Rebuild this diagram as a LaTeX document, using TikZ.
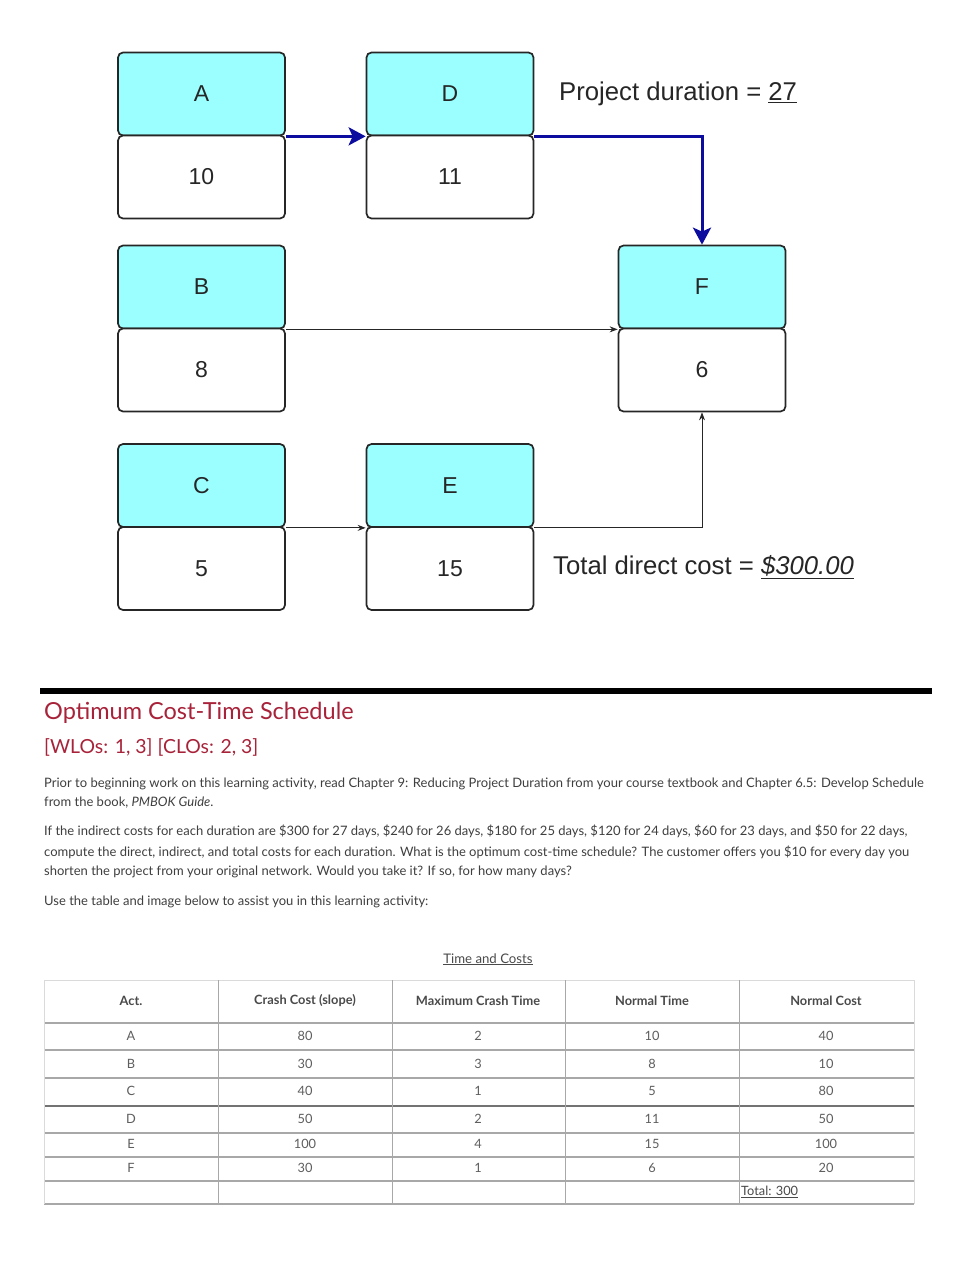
\documentclass[tikz,border=0pt]{standalone}
\usepackage{fontspec}
\setmainfont{Liberation Sans}
\newfontfamily\lato{Lato}
\usetikzlibrary{arrows.meta}
\definecolor{boxcyan}{HTML}{9BFFFF}
\definecolor{navy}{HTML}{0C0C9E}
\definecolor{titlered}{HTML}{A8233A}
\definecolor{bodygray}{HTML}{3F3F3F}
\definecolor{tabgray}{HTML}{5E5E5E}
\definecolor{headgray}{HTML}{4A4A4A}
\definecolor{rulegray}{HTML}{A8A8A8}
\definecolor{lightrule}{HTML}{DADADA}
\tikzset{
  actbox/.style={draw=black!85, line width=1.7pt, rounded corners=5pt, fill=boxcyan,
    minimum width=167pt, minimum height=83pt, inner sep=0pt,
    font=\fontsize{23}{23}\selectfont, text=black!85},
  durbox/.style={actbox, fill=white},
  crit/.style={draw=navy, line width=3pt, -{Stealth[length=17pt,width=18pt,inset=4pt]}},
  plain/.style={draw=black!85, line width=0.9pt, -{Stealth[length=8pt,width=6pt]}},
  lbl/.style={anchor=west, inner sep=0pt, font=\fontsize{25.7}{26}\selectfont, text=black!85},
  bodytxt/.style={anchor=base west, inner sep=0pt, font=\lato\fontsize{13}{13}\selectfont, text=bodygray},
  cell/.style={anchor=center, inner sep=0pt, font=\lato\fontsize{12.8}{13}\selectfont, text=tabgray},
  headcell/.style={anchor=center, inner sep=0pt, font=\lato\bfseries\fontsize{12.8}{13}\selectfont, text=headgray},
}
\begin{document}
\begin{tikzpicture}[x=1pt,y=-1pt]
\useasboundingbox[fill=white] (0,0) rectangle (971,1280);
% activity boxes
\node[actbox] (A) at (201.5,94) {A};
\node[durbox] (A2) at (201.5,177) {10};
\node[actbox] (D) at (450,94) {D};
\node[durbox] (D2) at (450,177) {11};
\node[actbox] (B) at (201.5,287) {B};
\node[durbox] (B2) at (201.5,370) {8};
\node[actbox] (F) at (702,287) {F};
\node[durbox] (F2) at (702,370) {6};
\node[actbox] (C) at (201.5,485.5) {C};
\node[durbox] (C2) at (201.5,568.5) {5};
\node[actbox] (E) at (450,485.5) {E};
\node[durbox] (E2) at (450,568.5) {15};
% connectors
\draw[crit] (A.south east) -- (D.south west);
\draw[crit] (D.south east) -| (F.north);
\draw[plain] (B.south east) -- (F.south west);
\draw[plain] (C.south east) -- (E.south west);
\draw[plain] (E.south east) -| (F2.south);
% labels
\node[lbl] (pd) at (559,94) {Project duration = \underline{27}};
\node[lbl] (tdc) at (553,567) {Total direct cost = \underline{\textit{\$300.00}}};
% rule
\draw[line width=6pt] (40,691) -- (932,691);
% text section
\node[anchor=base west, inner sep=0pt, font=\lato\fontsize{23.5}{24}\selectfont, text=titlered] (ttl) at (44,719) {Optimum Cost-Time Schedule};
\node[anchor=base west, inner sep=0pt, font=\lato\fontsize{19.4}{20}\selectfont, text=titlered] (wlo) at (44,753) {[WLOs: 1, 3] [CLOs: 2, 3]};
\node[bodytxt] (p1) at (44,787) {Prior to beginning work on this learning activity, read Chapter 9: Reducing Project Duration from your course textbook and Chapter 6.5: Develop Schedule};
\node[bodytxt] (p2) at (44,806) {from the book, \textit{PMBOK Guide}.};
\node[bodytxt] (p3) at (44,835) {If the indirect costs for each duration are \$300 for 27 days, \$240 for 26 days, \$180 for 25 days, \$120 for 24 days, \$60 for 23 days, and \$50 for 22 days,};
\node[bodytxt] (p4) at (44,856) {compute the direct, indirect, and total costs for each duration. What is the optimum cost-time schedule? The customer offers you \$10 for every day you};
\node[bodytxt] (p5) at (44,875) {shorten the project from your original network. Would you take it? If so, for how many days?};
\node[bodytxt] (p6) at (44,905) {Use the table and image below to assist you in this learning activity:};
% table
\node[anchor=base, inner sep=0pt, font=\lato\fontsize{13.2}{13}\selectfont, text=headgray] (tc) at (488,963) {\underline{Time and Costs}};
\draw[lightrule, line width=1pt] (44,980) -- (914,980);
\foreach \yy in {1023,1050,1078,1133,1157,1181,1204} \draw[rulegray, line width=1.2pt] (44,\yy) -- (914,\yy);
\draw[black!55, line width=1.2pt] (44,1106) -- (914,1106);
\foreach \xx in {44,914} \draw[lightrule, line width=1pt] (\xx,980) -- (\xx,1204);
\foreach \xx in {218,392,565,739} \draw[rulegray, line width=1pt] (\xx,980) -- (\xx,1204);
\node[headcell] (h1) at (131,1001) {Act.};
\node[headcell] (h2) at (305,1001) {Crash Cost (slope)};
\node[headcell] (h3) at (478,1001) {Maximum Crash Time};
\node[headcell] (h4) at (652,1001) {Normal Time};
\node[headcell] (h5) at (826,1001) {Normal Cost};
\foreach \yy/\a/\b/\c/\d/\e in {1036/A/80/2/10/40, 1064/B/30/3/8/10, 1091/C/40/1/5/80, 1119/D/50/2/11/50, 1144/E/100/4/15/100, 1168/F/30/1/6/20}{
  \node[cell] at (131,\yy) {\a};
  \node[cell] at (305,\yy) {\b};
  \node[cell] at (478,\yy) {\c};
  \node[cell] at (652,\yy) {\d};
  \node[cell] at (826,\yy) {\e};
}
\node[cell, anchor=west, text=headgray] (tot) at (741,1192) {\underline{Total: 300}};
\end{tikzpicture}
\end{document}
